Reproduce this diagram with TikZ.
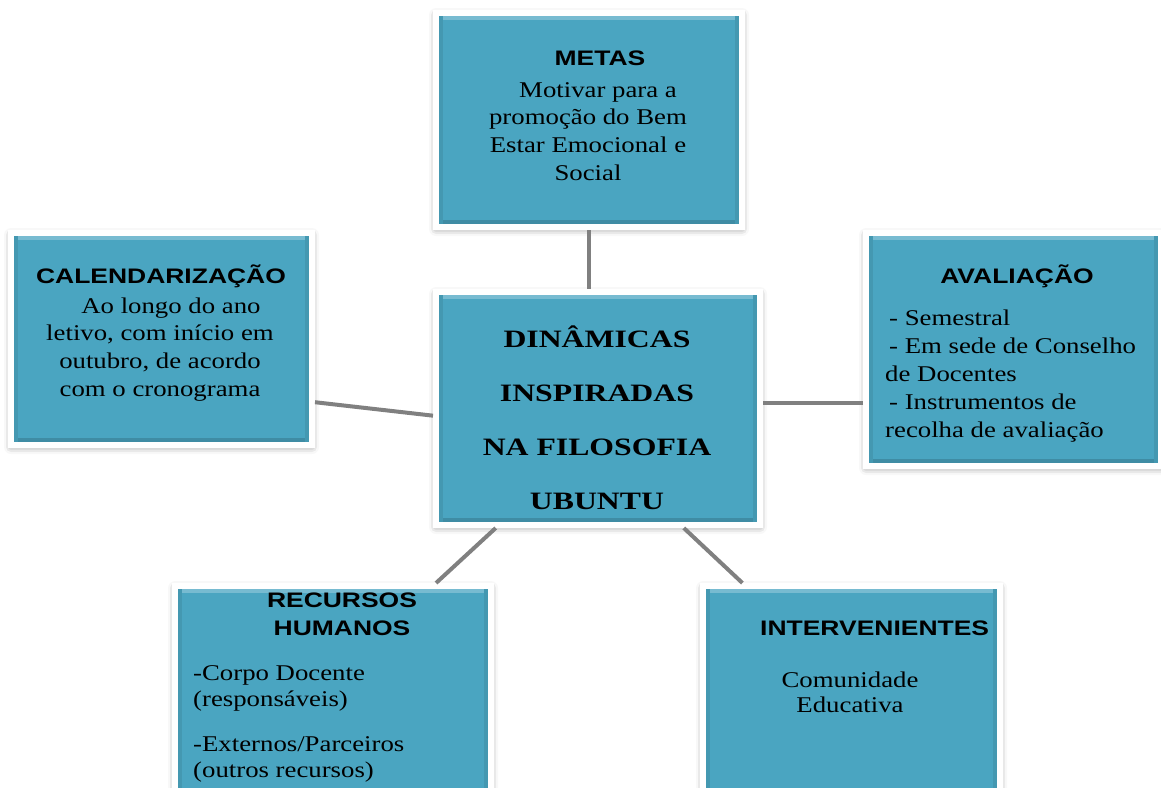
\documentclass[tikz,border=0pt]{standalone}
\usepackage{fontspec}
\usetikzlibrary{calc,shadows.blur}
\newfontfamily\titlefont{Liberation Sans}[FakeStretch=1.26]
\newfontfamily\bodyfont{Liberation Serif}[FakeStretch=1.19]
\newfontfamily\centerfont{Liberation Serif}[FakeStretch=1.27]
\definecolor{boxteal}{RGB}{74,165,193}
\definecolor{conngray}{RGB}{128,128,128}
\tikzset{
  box/.style={rectangle, fill=boxteal, draw=white, line width=6pt, inner sep=0pt,
    blur shadow={shadow xshift=0pt, shadow yshift=-2pt, shadow blur radius=7pt, shadow opacity=45},
    path picture={
      \fill[boxteal!75!white] (path picture bounding box.north west) rectangle ([yshift=-7pt]path picture bounding box.north east);
      \fill[boxteal!85!black] (path picture bounding box.south west) rectangle ([yshift=7pt]path picture bounding box.south east);
      \fill[boxteal!92!black] (path picture bounding box.south west) rectangle ([xshift=7pt]path picture bounding box.north west);
      \fill[boxteal!92!black] (path picture bounding box.south east) rectangle ([xshift=-7pt]path picture bounding box.north east);
    }},
  conn/.style={draw=conngray, line width=4pt},
  ttl/.style={inner sep=0pt, font={\titlefont\bfseries\fontsize{21}{28}\selectfont}},
  bdy/.style={inner sep=0pt, font={\bodyfont\fontsize{22.5}{27.7}\selectfont}},
  ctr/.style={inner sep=0pt, align=center, font={\centerfont\bfseries\fontsize{25}{54}\selectfont}}
}
\begin{document}
\begin{tikzpicture}[x=1pt,y=-1pt]
\useasboundingbox (0,0) rectangle (1161,787);
\clip (0,0) rectangle (1161,787);
% boxes
\node[box, minimum width=306pt, minimum height=214pt] (metas) at (589,120) {};
\node[box, minimum width=301pt, minimum height=212pt] (cal) at (161.5,339) {};
\node[box, minimum width=324pt, minimum height=233pt] (c) at (598,408.5) {};
\node[box, minimum width=295pt, minimum height=233pt] (aval) at (1013.5,349.5) {};
\node[box, minimum width=316pt, minimum height=211pt] (rec) at (333,691.5) {};
\node[box, minimum width=297pt, minimum height=211pt] (interv) at (851.5,691.5) {};
% connectors
\draw[conn] (metas.south) -- (metas.south |- c.north);
\draw[conn] ($(cal.south east)!0.21!(cal.north east)$) -- ($(c.south west)!0.47!(c.north west)$);
\coordinate (avalin) at ($(aval.south west)!0.275!(aval.north west)$);
\draw[conn] (avalin) -- (c.east |- avalin);
\draw[conn] ($(c.south west)!0.19!(c.south east)$) -- ($(rec.north west)!0.82!(rec.north east)$);
\draw[conn] ($(c.south west)!0.76!(c.south east)$) -- ($(interv.north west)!0.14!(interv.north east)$);
% texts
\node[ttl, anchor=base] (tmetas) at (600,65) {METAS};
\node[bdy, anchor=north, align=center] (bmetas) at (588,75) {\rule{0pt}{22pt}\hspace*{20pt}Motivar para a\\promoção do Bem\\Estar Emocional e\\Social};
\node[ttl, anchor=base] (tcal) at (161,283) {CALENDARIZAÇÃO};
\node[bdy, anchor=north, align=center] (bcal) at (160,291) {\rule{0pt}{22pt}\hspace*{22pt}Ao longo do ano\\letivo, com início em\\outubro, de acordo\\com o cronograma};
\node[ctr, anchor=north] (tc) at (597,322) {\rule{0pt}{25pt}DINÂMICAS\\INSPIRADAS\\NA FILOSOFIA\\UBUNTU};
\node[ttl, anchor=base] (taval) at (1017,283) {AVALIAÇÃO};
\node[bdy, anchor=north west, align=left, font={\bodyfont\fontsize{22.5}{28}\selectfont}] (baval) at (885,303) {\rule{0pt}{22pt}\hspace*{4pt}- Semestral\\\hspace*{4pt}- Em sede de Conselho\\de Docentes\\\hspace*{4pt}- Instrumentos de\\recolha de avaliação};
\node[ttl, anchor=north, align=center] (trec) at (342,586) {\rule{0pt}{21pt}RECURSOS\\HUMANOS};
\node[bdy, anchor=north west, align=left, font={\bodyfont\fontsize{22.5}{26}\selectfont}] (brec) at (193,658) {\rule{0pt}{22pt}-Corpo Docente\\(responsáveis)\\[19pt]-Externos/Parceiros\\(outros recursos)};
\node[ttl, anchor=base west] (tinterv) at (760,635) {INTERVENIENTES};
\node[bdy, anchor=north, align=center, font={\bodyfont\fontsize{22.5}{25.5}\selectfont}] (binterv) at (850,665) {\rule{0pt}{22pt}Comunidade\\Educativa};
\end{tikzpicture}
\end{document}
